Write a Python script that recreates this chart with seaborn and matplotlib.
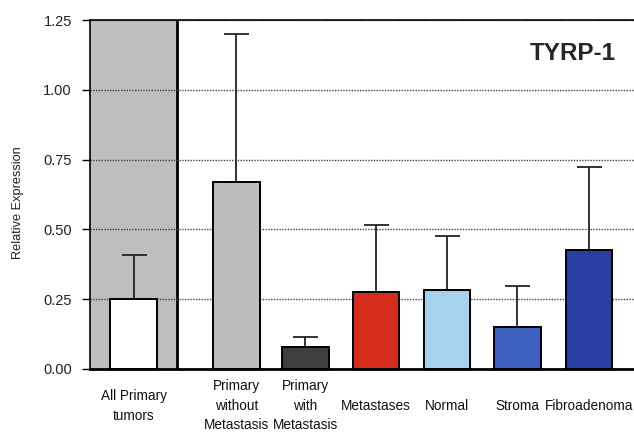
import matplotlib
matplotlib.use("Agg")
import matplotlib.pyplot as plt
import seaborn as sns
import pandas as pd
from matplotlib.patches import Rectangle

# Relative TYRP-1 expression per tissue group (mean and upper error)
groups = ["All Primary\ntumors", "Primary\nwithout\nMetastasis", "Primary\nwith\nMetastasis",
          "Metastases", "Normal", "Stroma", "Fibroadenoma"]
expression = [0.25, 0.67, 0.08, 0.275, 0.283, 0.15, 0.428]
error_upper = [0.16, 0.53, 0.035, 0.24, 0.193, 0.147, 0.294]
y_ticks = [0.00, 0.25, 0.50, 0.75, 1.00, 1.25]
title = "TYRP-1"

# Layout: bar centres along the x axis (wider gap after the first group)
bar_x = [0.0, 1.455, 2.437, 3.437, 4.444, 5.441, 6.457]
bar_colors = ["#ffffff", "#bdbdbd", "#3e3e3e", "#d62c1e", "#a6d2f0", "#3c5fbe", "#283ea3"]

sns.set_style("white")
plt.rcParams["font.family"] = ["Liberation Sans", "DejaVu Sans"]

df = pd.DataFrame({"group": groups, "x": bar_x, "value": expression, "err": error_upper})

fig = plt.figure(figsize=(6.34, 4.32), dpi=100)
ax = fig.add_axes([90 / 634, 63 / 432, 1 - 90 / 634, 349 / 432])

# Shaded panel behind the pooled primary-tumour group
x_left, x_right = -0.62, 7.097
panel_edge = 0.614
ax.add_patch(Rectangle((x_left, 0), panel_edge - x_left, 1.25,
                       facecolor="#bebebe", edgecolor="none", zorder=0.2))
ax.axvline(panel_edge, color="black", lw=2.0, zorder=0.3)

sns.barplot(data=df, x="x", y="value", hue="group", native_scale=True, dodge=False,
            palette=dict(zip(groups, bar_colors)), saturation=1, width=0.672,
            edgecolor="black", linewidth=1.4, legend=False, ax=ax, zorder=2)

ax.errorbar(df["x"], df["value"], yerr=[[0] * len(groups), df["err"]], fmt="none",
            ecolor="#222222", elinewidth=1.3, capsize=9, capthick=1.3, zorder=1.5)

ax.set_xlim(x_left, x_right)
ax.set_ylim(0, 1.25)
ax.set_yticks(y_ticks)
ax.set_yticklabels([f"{v:.2f}" for v in y_ticks], fontsize=10.5, color="#222222")
ax.set_xticks(bar_x)
ax.set_xticklabels(groups, fontsize=9.8, va="center", ha="center", multialignment="center",
                   linespacing=1.5, color="#111111")
ax.tick_params(axis="x", length=0, pad=26.5)
ax.tick_params(axis="y", direction="out", length=6, width=1, color="black", left=True, pad=7)

ax.set_axisbelow(True)
ax.yaxis.grid(True, linestyle=(0, (1, 1)), color="#444444", lw=1.0)
ax.xaxis.grid(False)

for side in ["left", "bottom", "top"]:
    ax.spines[side].set_visible(True)
    ax.spines[side].set_color("black")
ax.spines["left"].set_linewidth(1.2)
ax.spines["top"].set_linewidth(1.2)
ax.spines["bottom"].set_linewidth(2.0)
ax.spines["right"].set_visible(False)

ax.set_xlabel("")
ax.set_ylabel("Relative Expression", fontsize=9.2, color="#222222")
ax.yaxis.set_label_coords((24 - 90) / 544, (369 - 203) / 349)
ax.text((616 - 90) / 544, (369 - 53) / 349, title, transform=ax.transAxes, fontsize=17.5,
        fontweight="bold", ha="right", va="center")

fig.savefig("out.png", dpi=100)
